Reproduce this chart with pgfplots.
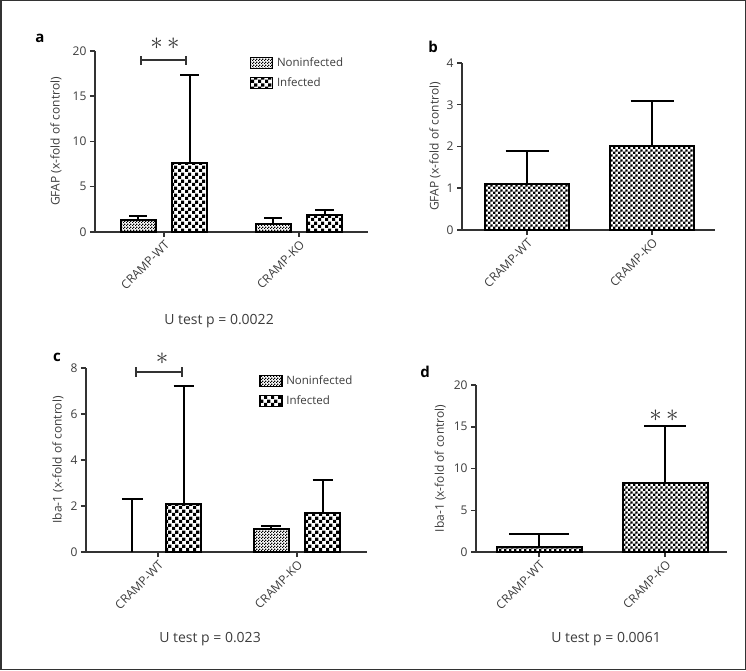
\documentclass[border=0pt]{standalone}
\usepackage{fontspec}
\setmainfont{Open Sans}
\usepackage{pgfplots}
\pgfplotsset{compat=1.18}
\usetikzlibrary{patterns}
\definecolor{axgray}{HTML}{333333}
\definecolor{txtgray}{HTML}{3C3C3C}

% checker patterns: fine (noninfected), medium (panels b, d), coarse (infected)
\pgfdeclarepatternformonly{finecheck}{\pgfpointorigin}{\pgfqpoint{3pt}{3pt}}{\pgfqpoint{3pt}{3pt}}{%
  \pgfpathrectangle{\pgfpointorigin}{\pgfqpoint{1.5pt}{1.5pt}}%
  \pgfpathrectangle{\pgfqpoint{1.5pt}{1.5pt}}{\pgfqpoint{1.5pt}{1.5pt}}%
  \pgfusepath{fill}}
\pgfdeclarepatternformonly{midcheck}{\pgfpointorigin}{\pgfqpoint{5.2pt}{5.2pt}}{\pgfqpoint{5.2pt}{5.2pt}}{%
  \pgfpathrectangle{\pgfpointorigin}{\pgfqpoint{2.6pt}{2.6pt}}%
  \pgfpathrectangle{\pgfqpoint{2.6pt}{2.6pt}}{\pgfqpoint{2.6pt}{2.6pt}}%
  \pgfusepath{fill}}
\pgfdeclarepatternformonly{bigcheck}{\pgfpointorigin}{\pgfqpoint{6.6pt}{6.6pt}}{\pgfqpoint{6.6pt}{6.6pt}}{%
  \pgfpathrectangle{\pgfpointorigin}{\pgfqpoint{3.3pt}{3.3pt}}%
  \pgfpathrectangle{\pgfqpoint{3.3pt}{3.3pt}}{\pgfqpoint{3.3pt}{3.3pt}}%
  \pgfusepath{fill}}

\newcommand\tickfont{\fontsize{12}{14}\selectfont}

\pgfplotsset{
  panel/.style={
    scale only axis, anchor=south west, clip=false,
    axis lines=left, axis line style={-, line width=1.5pt, draw=axgray},
    tick align=outside, major tick length=5pt,
    tick style={line width=1.5pt, draw=axgray},
    ymin=0, xtick={0,1}, xticklabels={CRAMP-WT,CRAMP-KO},
    xticklabel style={rotate=45, anchor=north east, font=\tickfont, text=txtgray, inner sep=2pt},
    yticklabel style={font=\tickfont, text=txtgray},
    /pgf/number format/assume math mode=true,
    every axis y label/.style={rotate=90, anchor=center, font=\fontsize{12}{14}\selectfont, text=txtgray},
    legend style={draw=none, fill=none, anchor=north west, inner sep=0pt,
      font=\fontsize{11.5}{14}\selectfont, text=txtgray, row sep=6pt,
      nodes={inner xsep=3.8pt}},
    legend cell align=left,
  },
  bars/.style={ybar, bar shift=0pt, draw=black, line width=2pt,
    error bars/y dir=plus, error bars/y explicit,
    error bars/error bar style={line width=2pt, black},
    error bars/error mark options={rotate=90, line width=2pt, black, mark size=#1}},
  noninf/.style={pattern=finecheck,
    legend image code/.code={\draw[pattern=finecheck, line width=1.5pt] (0pt,-5.5pt) rectangle (22pt,5.5pt);}},
  inf/.style={pattern=bigcheck,
    legend image code/.code={\draw[pattern=bigcheck, line width=1.5pt] (0pt,-5.5pt) rectangle (22pt,5.5pt);}},
}

\begin{document}
\begin{tikzpicture}[x=1pt,y=1pt]
\useasboundingbox (0,0) rectangle (746,670);
\draw[line width=1.5pt, axgray] (0.75,0.75) rectangle (745.25,669.25);

% ---- a ----  (categories at 0 and 1; each pair of bars sits at -0.19 / +0.19)
\begin{axis}[panel, at={(95pt,438pt)}, width=273pt, height=181pt,
    xmin=-0.51, xmax=1.51, ymax=20, ytick={0,5,10,15,20},
    ylabel={GFAP (x-fold of control)},
    ylabel style={at={(axis description cs:-0.143,0.5)}},
    legend style={at={(axis description cs:0.566,0.975)}}]
  \addplot[bars=9pt, noninf, bar width=0.26]
    coordinates {(-0.19,1.3) +- (0,0.5) (0.81,0.9) +- (0,0.7)};
  \addplot[bars=9.5pt, inf, bar width=0.26]
    coordinates {(0.19,7.6) +- (0,9.7) (1.19,1.9) +- (0,0.5)};
  \legend{Noninfected, Infected}
  \draw[line width=2pt, axgray] (axis cs:-0.17,19) -- (axis cs:0.163,19);
  \draw[line width=2.4pt, axgray] (axis cs:-0.17,18.5) -- (axis cs:-0.17,19.5);
  \draw[line width=2.4pt, axgray] (axis cs:0.163,18.5) -- (axis cs:0.163,19.5);
\end{axis}

% ---- b ----
\begin{axis}[panel, at={(462pt,440pt)}, width=253pt, height=167pt,
    xmin=-0.52, xmax=1.504, ymax=4, ytick={0,1,2,3,4},
    ylabel={GFAP (x-fold of control)},
    ylabel style={at={(axis description cs:-0.107,0.5)}}]
  \addplot[bars=21.5pt, pattern=midcheck, bar width=0.675]
    coordinates {(0,1.1) +- (0,0.8) (1,2.0) +- (0,1.1)};
\end{axis}

% ---- c ----
\begin{axis}[panel, at={(86pt,118pt)}, width=281pt, height=184pt,
    xmin=-0.518, xmax=1.504, ymax=8, ytick={0,2,4,6,8},
    ylabel={Iba-1 (x-fold of control)},
    ylabel style={at={(axis description cs:-0.1,0.5)}},
    legend style={at={(axis description cs:0.615,0.97)}}]
  \addplot[bars=10pt, noninf, bar width=0.252]
    coordinates {(0.815,1.0) +- (0,0.15)};
  \addplot[bars=10pt, inf, bar width=0.252]
    coordinates {(0.185,2.1) +- (0,5.1) (1.185,1.7) +- (0,1.45)};
  \addplot[bars=10.5pt, draw=none, bar width=0.252, forget plot]
    coordinates {(-0.185,0) +- (0,2.3)};
  \legend{Noninfected, Infected}
  \draw[line width=2pt, axgray] (axis cs:-0.158,7.83) -- (axis cs:0.173,7.83);
  \draw[line width=2.4pt, axgray] (axis cs:-0.158,7.62) -- (axis cs:-0.158,8.04);
  \draw[line width=2.4pt, axgray] (axis cs:0.173,7.62) -- (axis cs:0.173,8.04);
\end{axis}

% ---- d ----
\begin{axis}[panel, at={(476pt,118pt)}, width=251pt, height=167pt,
    xmin=-0.5, xmax=1.49, ymax=20, ytick={0,5,10,15,20},
    ylabel={Iba-1 (x-fold of control)},
    ylabel style={at={(axis description cs:-0.143,0.5)}}]
  \addplot[bars=30pt, pattern=midcheck, bar width=0.675]
    coordinates {(0,0.65) +- (0,1.45)};
  \addplot[bars=21pt, pattern=midcheck, bar width=0.675]
    coordinates {(1,8.3) +- (0,6.8)};
\end{axis}

% significance stars
\node[text=axgray, font=\fontsize{23}{23}\selectfont] at (165,626) {$\ast\,\ast$};
\node[text=axgray, font=\fontsize{23}{23}\selectfont] at (162,311) {$\ast$};
\node[text=axgray, font=\fontsize{23}{23}\selectfont] at (664,254) {$\ast\,\ast$};

% panel letters and test notes
\node[font=\fontsize{15}{15}\selectfont\bfseries, text=black] at (40,632) {a};
\node[font=\fontsize{15}{15}\selectfont\bfseries, text=black] at (433,623) {b};
\node[font=\fontsize{15}{15}\selectfont\bfseries, text=black] at (57,313) {c};
\node[font=\fontsize{15}{15}\selectfont\bfseries, text=black] at (425,298) {d};
\node[font=\fontsize{14}{16}\selectfont, text=txtgray] at (219,349) {U test p = 0.0022};
\node[font=\fontsize{14}{16}\selectfont, text=txtgray] at (210,31) {U test p = 0.023};
\node[font=\fontsize{14}{16}\selectfont, text=txtgray] at (606,31) {U test p = 0.0061};
\end{tikzpicture}
\end{document}
